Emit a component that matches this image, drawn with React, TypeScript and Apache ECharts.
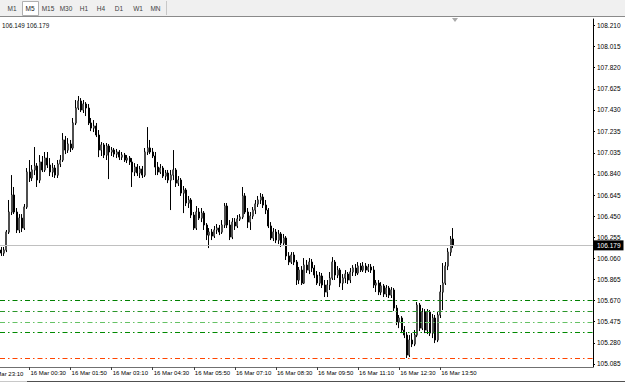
import React, { useEffect, useRef } from "react";
import * as echarts from "echarts";

// 5-minute bars, first bar 15 Mar 23:35
const openValues = [
  106.137, 106.109, 106.137, 106.303, 106.488, 106.645, 106.488, 106.322, 106.432, 106.340,
  106.534, 106.857, 106.802, 106.876, 106.913, 106.783, 106.950, 106.876, 106.986, 106.922,
  106.857, 106.894, 106.829, 106.931, 106.968, 107.153, 107.060, 107.116, 107.079, 107.310,
  107.448, 107.513, 107.430, 107.485, 107.448, 107.310, 107.263, 107.282, 107.199, 107.060,
  107.107, 107.014, 107.097, 107.042, 107.060, 107.023, 107.042, 106.995, 107.014, 106.968,
  106.986, 106.950, 106.857, 106.903, 106.848, 106.885, 106.829, 107.042, 107.079, 107.042,
  107.005, 106.903, 106.857, 106.894, 106.820, 106.848, 106.783, 106.829, 106.876, 106.755,
  106.783, 106.663, 106.691, 106.571, 106.599, 106.460, 106.340, 106.488, 106.432, 106.478,
  106.368, 106.275, 106.303, 106.266, 106.322, 106.340, 106.303, 106.368, 106.543, 106.368,
  106.257, 106.395, 106.359, 106.423, 106.442, 106.636, 106.488, 106.395, 106.451, 106.506,
  106.562, 106.599, 106.626, 106.552, 106.506, 106.359, 106.248, 106.303, 106.229, 106.285,
  106.201, 106.248, 106.082, 106.026, 106.091, 106.026, 105.860, 105.952, 105.832, 105.998,
  105.952, 106.026, 105.971, 105.906, 105.832, 105.897, 105.814, 105.749, 105.814, 105.878,
  106.026, 105.906, 105.952, 105.832, 105.878, 105.915, 105.860, 105.934, 105.971, 105.925,
  105.989, 105.952, 105.989, 105.952, 105.980, 105.952, 105.814, 105.832, 105.749, 105.805,
  105.731, 105.786, 105.721, 105.768, 105.601, 105.472, 105.509, 105.398, 105.352, 105.167,
  105.306, 105.269, 105.352, 105.629, 105.416, 105.564, 105.398, 105.564, 105.370, 105.509,
  105.306, 105.537, 105.749, 105.832, 105.989, 106.118, 106.238,
];
const closeValues = [
  106.109, 106.137, 106.303, 106.488, 106.645, 106.488, 106.322, 106.432, 106.340, 106.534,
  106.857, 106.802, 106.876, 106.913, 106.783, 106.950, 106.876, 106.986, 106.922, 106.857,
  106.894, 106.829, 106.931, 106.968, 107.153, 107.060, 107.116, 107.079, 107.310, 107.448,
  107.513, 107.430, 107.485, 107.448, 107.310, 107.263, 107.282, 107.199, 107.060, 107.107,
  107.014, 107.097, 107.042, 107.060, 107.023, 107.042, 106.995, 107.014, 106.968, 106.986,
  106.950, 106.857, 106.903, 106.848, 106.885, 106.829, 107.042, 107.079, 107.042, 107.005,
  106.903, 106.857, 106.894, 106.820, 106.848, 106.783, 106.829, 106.876, 106.755, 106.783,
  106.663, 106.691, 106.571, 106.599, 106.460, 106.340, 106.488, 106.432, 106.478, 106.368,
  106.275, 106.303, 106.266, 106.322, 106.340, 106.303, 106.368, 106.543, 106.368, 106.257,
  106.395, 106.359, 106.423, 106.442, 106.636, 106.488, 106.395, 106.451, 106.506, 106.562,
  106.599, 106.626, 106.552, 106.506, 106.359, 106.248, 106.303, 106.229, 106.285, 106.201,
  106.248, 106.082, 106.026, 106.091, 106.026, 105.860, 105.952, 105.832, 105.998, 105.952,
  106.026, 105.971, 105.906, 105.832, 105.897, 105.814, 105.749, 105.814, 105.878, 106.026,
  105.906, 105.952, 105.832, 105.878, 105.915, 105.860, 105.934, 105.971, 105.925, 105.989,
  105.952, 105.989, 105.952, 105.980, 105.952, 105.814, 105.832, 105.749, 105.805, 105.731,
  105.786, 105.721, 105.768, 105.601, 105.472, 105.509, 105.398, 105.352, 105.167, 105.306,
  105.269, 105.352, 105.629, 105.416, 105.564, 105.398, 105.564, 105.370, 105.509, 105.306,
  105.537, 105.749, 105.832, 105.989, 106.118, 106.238, 106.179,
];
const highValues = [
  106.165, 106.165, 106.322, 106.599, 106.829, 106.719, 106.525, 106.469, 106.469, 106.562,
  106.894, 106.968, 106.922, 107.088, 106.940, 107.014, 107.005, 107.042, 107.042, 106.986,
  106.940, 106.922, 106.968, 107.014, 107.217, 107.190, 107.171, 107.153, 107.356, 107.522,
  107.559, 107.540, 107.522, 107.503, 107.485, 107.356, 107.337, 107.310, 107.245, 107.134,
  107.125, 107.125, 107.116, 107.088, 107.079, 107.070, 107.060, 107.042, 107.033, 107.014,
  107.005, 106.986, 106.940, 106.931, 106.913, 106.913, 107.079, 107.272, 107.153, 107.079,
  107.042, 106.950, 106.931, 106.913, 106.876, 106.876, 106.876, 107.060, 106.894, 106.820,
  106.802, 106.728, 106.709, 106.636, 106.617, 106.488, 106.543, 106.525, 106.525, 106.497,
  106.386, 106.340, 106.331, 106.359, 106.377, 106.368, 106.414, 106.571, 106.571, 106.414,
  106.432, 106.432, 106.460, 106.469, 106.719, 106.663, 106.525, 106.488, 106.534, 106.599,
  106.636, 106.663, 106.654, 106.599, 106.525, 106.395, 106.340, 106.331, 106.322, 106.303,
  106.285, 106.266, 106.118, 106.118, 106.118, 106.045, 105.980, 105.989, 106.063, 106.045,
  106.063, 106.054, 105.998, 105.943, 105.934, 105.925, 105.860, 105.860, 105.934, 106.072,
  106.045, 105.989, 105.971, 105.915, 105.952, 105.934, 105.971, 105.998, 106.008, 106.026,
  106.017, 106.026, 106.017, 106.008, 106.008, 105.989, 105.860, 105.860, 105.841, 105.823,
  105.814, 105.805, 105.795, 105.786, 105.629, 105.537, 105.527, 105.435, 105.380, 105.352,
  105.370, 105.398, 105.657, 105.648, 105.601, 105.592, 105.592, 105.583, 105.546, 105.537,
  105.564, 105.814, 106.017, 106.026, 106.155, 106.266, 106.340,
];
const lowValues = [
  106.082, 106.082, 106.118, 106.285, 106.460, 106.469, 106.294, 106.294, 106.303, 106.322,
  106.516, 106.765, 106.774, 106.829, 106.719, 106.755, 106.857, 106.857, 106.894, 106.820,
  106.811, 106.802, 106.802, 106.903, 106.950, 107.023, 107.033, 107.042, 107.060, 107.291,
  107.430, 107.411, 107.402, 107.374, 107.291, 107.235, 107.226, 107.180, 106.995, 107.005,
  106.986, 106.968, 106.792, 107.005, 106.995, 106.986, 106.968, 106.968, 106.950, 106.940,
  106.922, 106.719, 106.820, 106.820, 106.802, 106.802, 106.811, 107.014, 107.023, 106.986,
  106.829, 106.829, 106.839, 106.802, 106.783, 106.755, 106.506, 106.783, 106.719, 106.728,
  106.636, 106.478, 106.543, 106.525, 106.432, 106.322, 106.322, 106.414, 106.395, 106.322,
  106.229, 106.155, 106.229, 106.248, 106.285, 106.275, 106.285, 106.340, 106.340, 106.229,
  106.238, 106.322, 106.340, 106.405, 106.423, 106.469, 106.340, 106.322, 106.423, 106.469,
  106.534, 106.562, 106.525, 106.469, 106.340, 106.229, 106.220, 106.201, 106.192, 106.165,
  106.174, 106.045, 105.998, 106.008, 105.998, 105.814, 105.823, 105.814, 105.823, 105.925,
  105.915, 105.934, 105.878, 105.814, 105.805, 105.786, 105.703, 105.703, 105.768, 105.860,
  105.860, 105.878, 105.795, 105.768, 105.832, 105.823, 105.832, 105.897, 105.897, 105.906,
  105.934, 105.934, 105.925, 105.934, 105.925, 105.786, 105.749, 105.721, 105.721, 105.703,
  105.703, 105.694, 105.694, 105.574, 105.444, 105.416, 105.370, 105.324, 105.140, 105.149,
  105.241, 105.250, 105.333, 105.389, 105.398, 105.370, 105.361, 105.343, 105.324, 105.278,
  105.287, 105.509, 105.583, 105.814, 105.952, 106.082, 106.155,
];

const priceTicks = [
  108.21, 108.015, 107.82, 107.625, 107.43, 107.235, 107.035, 106.84, 106.645,
  106.45, 106.255, 106.06, 105.865, 105.67, 105.475, 105.28, 105.085,
];
const timeTickLabels = [
  "16 Mar 00:30", "16 Mar 01:50", "16 Mar 03:10", "16 Mar 04:30", "16 Mar 05:50",
  "16 Mar 07:10", "16 Mar 08:30", "16 Mar 09:50", "16 Mar 11:10", "16 Mar 12:30",
  "16 Mar 13:50",
];
const hiddenLeftLabel = "15 Mar 23:10";
const levelPrices = [105.665, 105.574, 105.475, 105.38, 105.14];
const levelColors = ["#008000", "#2a962a", "#66c266", "#008a00", "#ff4500"];
const lastPrice = 106.179;
const headerText = "106.149 106.179";
const timeframes = ["M1", "M5", "M15", "M30", "H1", "H4", "D1", "W1", "MN"];
const selectedTimeframe = "M5";

const firstBarMinutes = 23 * 60 + 35; // 15 Mar 23:35
const categoryCount = 231;
const monthName = "Mar";

function buildCategories(): string[] {
  const out: string[] = [];
  for (let k = 0; k < categoryCount; k++) {
    const t = firstBarMinutes + 5 * k;
    const day = 15 + Math.floor(t / 1440);
    const m = t % 1440;
    const hh = String(Math.floor(m / 60)).padStart(2, "0");
    const mm = String(m % 60).padStart(2, "0");
    out.push(`${day} ${monthName} ${hh}:${mm}`);
  }
  return out;
}

const FONT = "Liberation Sans";

export default function App() {
  const ref = useRef<HTMLDivElement>(null);
  useEffect(() => {
    if (!ref.current) return;
    const chart = echarts.init(ref.current, null, { renderer: "svg" });
    const categories = buildCategories();
    const candles = openValues.map((o, i) => [o, closeValues[i], lowValues[i], highValues[i]]);
    const bodies = openValues.map((o, i) => [o, closeValues[i], Math.min(o, closeValues[i]), Math.max(o, closeValues[i])]);
    const isTick = (idx: number) => timeTickLabels.indexOf(categories[idx]) >= 0;

    const tabCenters = [12, 30, 48, 66, 84, 101, 119, 138, 155.5];
    const graphics: any[] = [
      { type: "rect", shape: { x: 0, y: 0, width: 625, height: 16 }, style: { fill: "#f0f0f0" }, silent: true },
      { type: "line", shape: { x1: 0, y1: 16.5, x2: 625, y2: 16.5 }, style: { stroke: "#8a8a8a", lineWidth: 1 }, silent: true },
      { type: "rect", shape: { x: 22.5, y: 1.5, width: 16, height: 14 }, style: { fill: "#ffffff", stroke: "#b0b0b0", lineWidth: 1 }, silent: true },
      { type: "line", shape: { x1: 166.5, y1: 1, x2: 166.5, y2: 15 }, style: { stroke: "#c8c8c8", lineWidth: 1 }, silent: true },
      ...timeframes.map((tf, i) => ({
        type: "text",
        x: tabCenters[i],
        y: 8.5,
        style: { text: tf, fill: tf === selectedTimeframe ? "#202020" : "#404040", font: `6.5px '${FONT}'`, align: "center", verticalAlign: "middle" },
        silent: true,
      })),
      { type: "text", x: 2, y: 25, style: { text: headerText, fill: "#101010", font: `6.3px '${FONT}'`, verticalAlign: "middle" }, silent: true },
      { type: "polygon", shape: { points: [[452, 18], [458, 18], [455, 22]] }, style: { fill: "#a8a8a8" }, silent: true },
      { type: "text", x: -12, y: 374, style: { text: hiddenLeftLabel, fill: "#000", font: `6px '${FONT}'`, verticalAlign: "middle" }, silent: true },
      { type: "line", shape: { x1: 0, y1: 381.5, x2: 27, y2: 381.5 }, style: { stroke: "#c8c8c8", lineWidth: 1 }, silent: true },
      { type: "line", shape: { x1: 27, y1: 381.5, x2: 625, y2: 381.5 }, style: { stroke: "#505050", lineWidth: 1 }, silent: true },
    ];

    const dashDot = [5, 3, 1.5, 3];
    const markData: any[] = [
      {
        yAxis: lastPrice,
        lineStyle: { color: "#c0c0c0", type: "solid", width: 1 },
        label: {
          show: true,
          position: "end",
          distance: 1,
          formatter: lastPrice.toFixed(3),
          color: "#ffffff",
          backgroundColor: "#000000",
          padding: [2, 3, 1, 3],
          fontSize: 6.5,
          fontFamily: FONT,
        },
      },
      ...levelPrices.map((p, i) => ({
        yAxis: p,
        lineStyle: { color: levelColors[i], type: dashDot, width: 1.1 },
        label: { show: false },
      })),
    ];

    chart.setOption({
      animation: false,
      backgroundColor: "#ffffff",
      textStyle: { fontFamily: FONT },
      grid: { left: 0, right: 32, top: 19, bottom: 15 },
      xAxis: {
        type: "category",
        data: categories,
        boundaryGap: true,
        axisLine: { show: true, lineStyle: { color: "#707070", width: 1 } },
        axisTick: { show: true, alignWithLabel: true, interval: (idx: number) => isTick(idx), length: 3, lineStyle: { color: "#404040" } },
        axisLabel: {
          show: true,
          interval: (idx: number) => isTick(idx),
          align: "left",
          margin: 3,
          fontSize: 6,
          color: "#000",
          fontFamily: FONT,
          padding: [0, 0, 0, 1],
        },
        splitLine: { show: false },
      },
      yAxis: {
        type: "value",
        position: "right",
        min: 105.057,
        max: 108.27,
        scale: true,
        axisLine: { show: true, lineStyle: { color: "#000", width: 1 } },
        axisTick: { show: true, length: 2, customValues: priceTicks, lineStyle: { color: "#000" } },
        axisLabel: {
          show: true,
          customValues: priceTicks,
          formatter: (v: number) => v.toFixed(3),
          margin: 4,
          fontSize: 6.5,
          color: "#000",
          fontFamily: FONT,
        },
        splitLine: { show: false },
      },
      graphic: graphics,
      series: [
        {
          name: "candles",
          type: "candlestick",
          data: candles,
          barWidth: 1.5,
          itemStyle: {
            color: "#000000",
            color0: "#000000",
            borderColor: "#000000",
            borderColor0: "#000000",
            borderWidth: 1,
          },
          markLine: {
            silent: true,
            symbol: "none",
            data: markData,
          },
        },
        {
          name: "bullFill",
          type: "candlestick",
          data: bodies,
          barWidth: 1.5,
          itemStyle: {
            color: "#9c9c9c",
            color0: "#000000",
            borderColor: "#9c9c9c",
            borderColor0: "#000000",
            borderWidth: 0,
          },
        },
      ],
    });
    return () => chart.dispose();
  }, []);
  return <div ref={ref} style={{ position: "fixed", left: 0, top: 0, width: 625, height: 382 }} />;
}
